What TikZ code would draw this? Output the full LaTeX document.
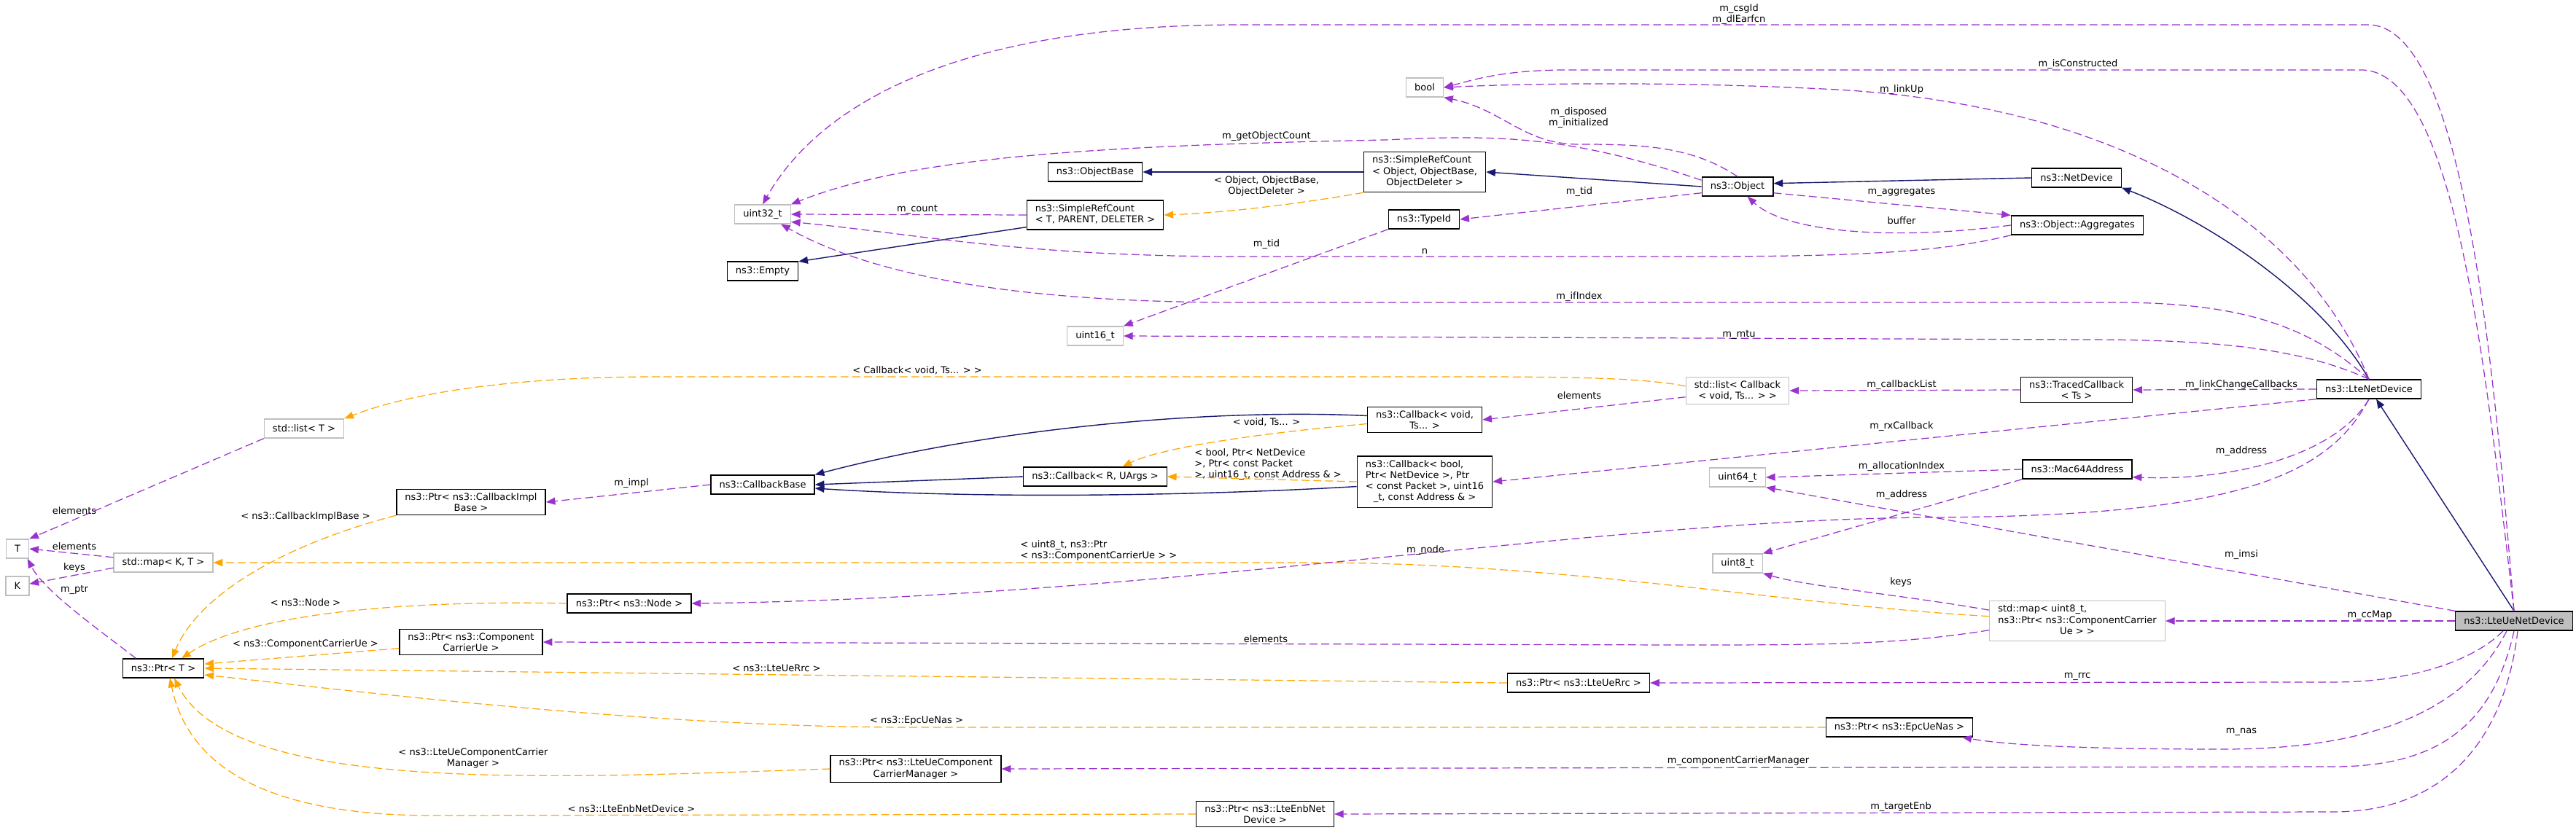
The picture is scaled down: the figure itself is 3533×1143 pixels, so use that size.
\documentclass[tikz,border=0pt]{standalone}
\usepackage{fontspec}
\usepackage{tikz}
\usetikzlibrary{arrows.meta}
\newfontfamily\dxfont{DejaVu Sans}
\definecolor{usepurple}{HTML}{9A32CD}
\definecolor{inhblue}{HTML}{191970}
\definecolor{tmplorange}{HTML}{FFA500}
\definecolor{extgray}{HTML}{BFBFBF}
\newcommand{\dxleft}[2]{\begin{tabular}{@{}l@{}}#1\\\multicolumn{1}{@{}c@{}}{#2}\end{tabular}}
\tikzset{
  dxtext/.style={font=\dxfont\fontsize{3.7}{4.3}\selectfont},
  cls/.style={dxtext, rectangle, draw=black, fill=white, line width=0.38pt,
              inner xsep=3.3pt, inner ysep=1.4pt, minimum height=7.4pt, align=center},
  ext/.style={cls, draw=extgray},
  focus/.style={cls, fill=extgray},
  lbl/.style={dxtext, inner sep=0.5pt, align=center},
  usage/.style={draw=usepurple, line width=0.35pt, dash pattern=on 3.1pt off 1.5pt,
                -{Triangle[length=3.6pt,width=2.8pt]}},
  tmpl/.style={draw=tmplorange, line width=0.35pt, dash pattern=on 3.1pt off 1.5pt,
               -{Triangle[length=3.6pt,width=2.8pt]}},
  inh/.style={draw=inhblue, line width=0.4pt, -{Triangle[length=3.6pt,width=2.8pt]}}
}
\begin{document}
\begin{tikzpicture}[x=0.01cm, y=-0.01cm]
\path[use as bounding box, fill=white] (0,0) rectangle (3533,1143);
% classes
\node[ext] (T) at (24,753) {T};
\node[ext] (K) at (24,804) {K};
\node[ext] (mapKT) at (224,772) {std::map< K, T >};
\node[cls] (ptrT) at (224,917) {ns3::Ptr< T >};
\node[ext] (listT) at (417,588) {std::list< T >};
\node[cls] (ptrCIB) at (646,689) {ns3::Ptr< ns3::CallbackImpl\\Base >};
\node[cls] (ptrNode) at (863,828) {ns3::Ptr< ns3::Node >};
\node[cls] (ptrCCU) at (646,881) {ns3::Ptr< ns3::Component\\CarrierUe >};
\node[cls] (cbBase) at (1046,665) {ns3::CallbackBase};
\node[ext] (uint32) at (1046,294) {uint32\_t};
\node[cls] (empty) at (1046,372) {ns3::Empty};
\node[cls] (objBase) at (1502,236) {ns3::ObjectBase};
\node[cls] (srcT) at (1502,295) {\dxleft{ns3::SimpleRefCount}{< T, PARENT, DELETER >}};
\node[ext] (uint16) at (1502,461) {uint16\_t};
\node[cls] (cbRU) at (1502,654) {ns3::Callback< R, UArgs >};
\node[cls] (ptrCCM) at (1256,1055) {ns3::Ptr< ns3::LteUeComponent\\CarrierManager >};
\node[ext] (bool) at (1954,120) {bool};
\node[cls] (srcObj) at (1954,236) {\dxleft{ns3::SimpleRefCount\\< Object, ObjectBase,}{ObjectDeleter >}};
\node[cls] (typeId) at (1953,301) {ns3::TypeId};
\node[cls] (cbVoid) at (1954,576) {ns3::Callback< void,\\Ts... >};
\node[cls] (cbBool) at (1954,661) {\dxleft{ns3::Callback< bool,\\Ptr< NetDevice >, Ptr\\< const Packet >, uint16}{\_t, const Address \& >}};
\node[cls] (ptrRrc) at (2165,937) {ns3::Ptr< ns3::LteUeRrc >};
\node[cls] (ptrEnb) at (1735,1117) {ns3::Ptr< ns3::LteEnbNet\\Device >};
\node[cls] (object) at (2383,256) {ns3::Object};
\node[ext] (listCb) at (2383,536) {std::list< Callback\\< void, Ts... > >};
\node[ext] (uint64) at (2383,655) {uint64\_t};
\node[ext] (uint8) at (2383,773) {uint8\_t};
\node[cls] (ptrNas) at (2605,998) {ns3::Ptr< ns3::EpcUeNas >};
\node[cls] (netDev) at (2848,244) {ns3::NetDevice};
\node[cls] (aggr) at (2849,309) {ns3::Object::Aggregates};
\node[cls] (traced) at (2848,535) {ns3::TracedCallback\\< Ts >};
\node[cls] (mac64) at (2849,644) {ns3::Mac64Address};
\node[ext] (mapCC) at (2849,852) {\dxleft{std::map< uint8\_t,\\ns3::Ptr< ns3::ComponentCarrier}{Ue > >}};
\node[cls] (lteNet) at (3249,534) {ns3::LteNetDevice};
\node[focus] (lteUe) at (3448,852) {ns3::LteUeNetDevice};
% inheritance
\draw[inh] (srcObj.west) -- (objBase.east); \draw[inh] (object.west) -- (srcObj.east);
\draw[inh] (netDev.west) -- (object.5);
\draw[inh] (lteNet.north) .. controls (3180,400) and (3020,300) .. (netDev.south east);
\draw[inh] (lteUe.north) -- ([xshift=0.1cm]lteNet.south);
\draw[inh] (srcT.190) -- (empty.15);
\draw[inh] (cbVoid.176) .. controls (1650,560) and (1350,590) .. (cbBase.north east);
\draw[inh] (cbRU.west) -- (cbBase.east);
\draw[inh] (cbBool.184) .. controls (1650,680) and (1350,685) .. (cbBase.-4);
% template instances
\draw[tmpl] (srcObj.south west) .. controls (1780,280) and (1680,292) .. (srcT.east);
\draw[tmpl] (listCb.175) .. controls (2250,518) and (2150,517) .. (2000,517) -- (900,517)
  .. controls (700,517) and (560,540) .. (listT.north east);
\draw[tmpl] (cbVoid.184) .. controls (1720,595) and (1590,615) .. (cbRU.20);
\draw[tmpl] (cbBool.west) -- (cbRU.east);
\draw[tmpl] (mapCC.177) .. controls (2450,830) and (2150,772) .. (1800,772) -- (mapKT.east);
\draw[tmpl] (ptrCIB.south west) .. controls (380,750) and (270,820) .. ([xshift=0.12cm]ptrT.north);
\draw[tmpl] (ptrNode.west) .. controls (600,824) and (350,835) .. ([xshift=0.25cm]ptrT.north);
\draw[tmpl] (ptrCCU.185) -- (ptrT.6); \draw[tmpl] (ptrRrc.west) -- (ptrT.east);
\draw[tmpl] (ptrNas.west) -- (1250,998) .. controls (900,998) and (500,950) .. (ptrT.-9);
\draw[tmpl] (ptrCCM.west) .. controls (750,1068) and (320,1090) .. ([xshift=0.15cm]ptrT.south);
\draw[tmpl] (ptrEnb.west) -- (600,1119) .. controls (380,1120) and (260,1060) .. ([xshift=0.09cm]ptrT.south);
% members
\draw[usage] (lteUe.north) .. controls (3420,500) and (3380,40) .. (3250,34) -- (1700,34)
  .. controls (1300,34) and (1120,150) .. (uint32.north);
\draw[usage] (lteUe.north) .. controls (3410,520) and (3370,100) .. (3240,96) -- (2150,96)
  .. controls (2060,96) and (2020,110) .. (bool.east);
\draw[usage] (lteNet.north) .. controls (3160,300) and (2900,140) .. (2500,122)
  .. controls (2300,112) and (2100,114) .. (bool.east);
\draw[usage] (object.north) .. controls (2320,200) and (2250,198) .. (2165,198)
  .. controls (2090,198) and (2060,150) .. (bool.south east);
\draw[usage] (object.170) .. controls (2150,185) and (2050,185) .. (1900,192)
  .. controls (1500,200) and (1250,215) .. (uint32.north east);
\draw[usage] (object.190) -- (typeId.east); \draw[usage] (object.-10) -- (aggr.north west);
\draw[usage] (aggr.west) .. controls (2600,330) and (2450,320) .. (object.-45);
\draw[usage] (aggr.south west) .. controls (2650,350) and (2500,352) .. (2300,352) -- (1700,352)
  .. controls (1400,352) and (1250,320) .. (uint32.-15);
\draw[usage] (srcT.west) -- (uint32.east); \draw[usage] (typeId.south west) -- (uint16.north east);
\draw[usage] (lteNet.north) .. controls (3170,450) and (3080,415) .. (2900,415) -- (1700,415)
  .. controls (1400,415) and (1200,380) .. ([xshift=0.25cm]uint32.south);
\draw[usage] (lteNet.north) .. controls (3160,480) and (3050,466) .. (2860,466) -- (uint16.east);
\draw[usage] (lteNet.west) -- (traced.east); \draw[usage] (traced.west) -- (listCb.east);
\draw[usage] (listCb.187) -- (cbVoid.east); \draw[usage] (lteNet.south west) -- (cbBool.east);
\draw[usage] (lteNet.south) .. controls (3200,630) and (3050,660) .. (mac64.-8);
\draw[usage] (mac64.west) -- (uint64.east); \draw[usage] (mac64.south west) -- (uint8.north east);
\draw[usage] (lteUe.north west) -- (uint64.south east);
\draw[usage] (lteNet.south) .. controls (3190,660) and (3050,708) .. (2650,710)
  .. controls (2200,712) and (1600,820) .. (ptrNode.east);
\draw[usage] (mapCC.173) .. controls (2600,815) and (2480,805) .. (uint8.south east);
\draw[usage] (lteUe.west) -- (mapCC.east);
\draw[usage] (mapCC.186) .. controls (2600,885) and (2500,885) .. (2300,885) -- (ptrCCU.east);
\draw[usage] (cbBase.west) -- (ptrCIB.east); \draw[usage] (listT.south west) -- (T.north east);
\draw[usage] (mapKT.174) -- (T.east); \draw[usage] (mapKT.186) -- (K.10);
\draw[usage] (ptrT.160) .. controls (130,860) and (60,810) .. (T.-45);
\draw[usage] ([xshift=-0.15cm]lteUe.south) .. controls (3400,900) and (3320,936) .. (3200,936) -- (ptrRrc.east);
\draw[usage] ([xshift=-0.1cm]lteUe.south) .. controls (3390,960) and (3280,1028) .. (3050,1028)
  .. controls (2850,1028) and (2750,1022) .. ([xshift=-0.15cm]ptrNas.south east);
\draw[usage] (lteUe.south) .. controls (3420,990) and (3350,1052) .. (3200,1052) -- (ptrCCM.east);
\draw[usage] ([xshift=0.05cm]lteUe.south) .. controls (3440,980) and (3380,1114) .. (3200,1114) -- (ptrEnb.east);
% edge labels
\node[lbl] (lCsg) at (2385,20) {m\_csgId\\m\_dlEarfcn};
\node[lbl] (lIsC) at (2850,88) {m\_isConstructed};
\node[lbl] (lLink) at (2608,123) {m\_linkUp};
\node[lbl] (lDisp) at (2165,162) {m\_disposed\\m\_initialized};
\node[lbl] (lGet) at (1737,187) {m\_getObjectCount};
\node[lbl] (lOOD) at (1737,255) {< Object, ObjectBase,\\ObjectDeleter >};
\node[lbl] (lCount) at (1258,287) {m\_count};
\node[lbl] (lTid1) at (2166,263) {m\_tid};
\node[lbl] (lAggr) at (2608,263) {m\_aggregates};
\node[lbl] (lBuf) at (2608,303) {buffer};
\node[lbl] (lTid2) at (1737,335) {m\_tid};
\node[lbl] (lN) at (1954,345) {n};
\node[lbl] (lIf) at (2166,407) {m\_ifIndex};
\node[lbl] (lMtu) at (2385,459) {m\_mtu};
\node[lbl] (lCbV) at (1258,508) {< Callback< void, Ts... > >};
\node[lbl] (lCbList) at (2608,528) {m\_callbackList};
\node[lbl] (lLinkCb) at (3074,528) {m\_linkChangeCallbacks};
\node[lbl] (lElemCb) at (2166,543) {elements};
\node[lbl] (lVoidTs) at (1737,579) {< void, Ts... >};
\node[lbl] (lRx) at (2608,585) {m\_rxCallback};
\node[lbl] (lAddr1) at (3074,619) {m\_address};
\node[lbl, anchor=west, align=left] (lBoolT) at (1636,637) {< bool, Ptr< NetDevice\\>, Ptr< const Packet\\>, uint16\_t, const Address \& >};
\node[lbl] (lAlloc) at (2608,640) {m\_allocationIndex};
\node[lbl] (lImpl) at (866,663) {m\_impl};
\node[lbl] (lAddr2) at (2608,679) {m\_address};
\node[lbl] (lElemT1) at (102,701) {elements};
\node[lbl] (lCIB) at (419,709) {< ns3::CallbackImplBase >};
\node[lbl] (lElemT2) at (102,750) {elements};
\node[lbl, anchor=west, align=left] (lU8) at (1397,755) {< uint8\_t, ns3::Ptr\\< ns3::ComponentCarrierUe > >};
\node[lbl] (lNode) at (1955,755) {m\_node};
\node[lbl] (lImsi) at (3074,761) {m\_imsi};
\node[lbl] (lKeysK) at (102,779) {keys};
\node[lbl] (lKeysU8) at (2607,799) {keys};
\node[lbl] (lPtr) at (102,809) {m\_ptr};
\node[lbl] (lNodeT) at (419,827) {< ns3::Node >};
\node[lbl] (lCc) at (3250,844) {m\_ccMap};
\node[lbl] (lElemCc) at (1736,877) {elements};
\node[lbl] (lCCU) at (419,884) {< ns3::ComponentCarrierUe >};
\node[lbl] (lRrcT) at (1065,917) {< ns3::LteUeRrc >};
\node[lbl] (lRrc) at (2849,928) {m\_rrc};
\node[lbl] (lNasT) at (1257,989) {< ns3::EpcUeNas >};
\node[lbl] (lNas) at (3074,1004) {m\_nas};
\node[lbl] (lCCMT) at (649,1040) {< ns3::LteUeComponentCarrier\\Manager >};
\node[lbl] (lCCM) at (2384,1044) {m\_componentCarrierManager};
\node[lbl] (lTgt) at (2607,1107) {m\_targetEnb};
\node[lbl] (lEnbT) at (866,1110) {< ns3::LteEnbNetDevice >};
\end{tikzpicture}
\end{document}
